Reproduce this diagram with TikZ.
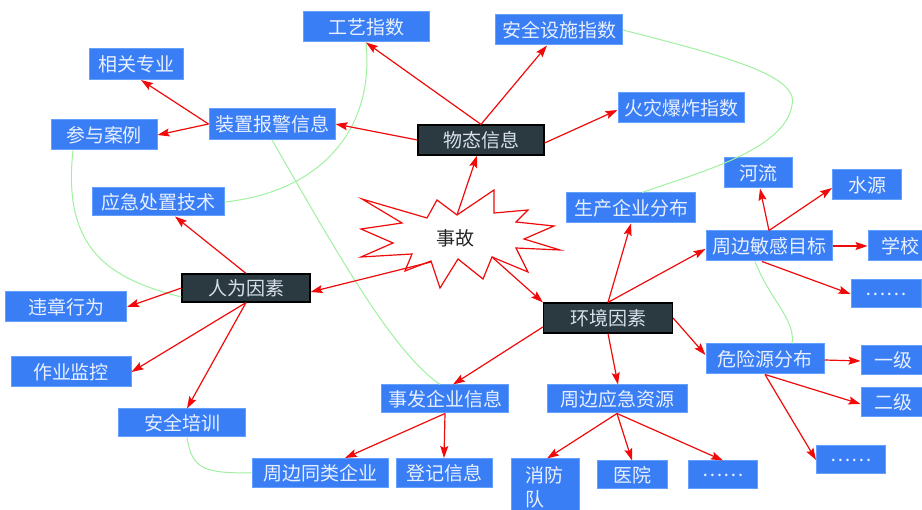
\documentclass[tikz,border=0pt]{standalone}
\usepackage{fontspec}
\setmainfont{Noto Sans CJK SC}
\usetikzlibrary{arrows.meta}
\definecolor{boxblue}{RGB}{58,126,246}
\definecolor{boxedge}{RGB}{100,160,255}
\definecolor{boxtext}{RGB}{232,240,255}
\definecolor{darkfill}{RGB}{42,58,64}
\definecolor{linkgreen}{RGB}{160,240,160}
\definecolor{arrred}{RGB}{240,10,10}
\tikzset{
  bluebox/.style={rectangle, fill=boxblue, draw=boxedge, line width=1pt, text=boxtext,
     inner sep=0pt, font=\fontsize{19}{22}\selectfont},
  darkbox/.style={rectangle, fill=darkfill, draw=black, line width=1.2pt, text=boxtext!85!gray,
     inner sep=0pt, font=\fontsize{19}{22}\selectfont},
  redarr/.style={draw=arrred, line width=1.2pt, -{Stealth[length=12pt,width=8pt,inset=2pt]}},
  greenlink/.style={draw=linkgreen, line width=1pt},
}
\begin{document}
\begin{tikzpicture}[x=1pt,y=-1pt]
\clip (0,0) rectangle (922,510);
\fill[white] (0,0) rectangle (922,510);
\useasboundingbox (0,0) rectangle (922,510);

% star
\draw[draw=arrred, line width=1.2pt, fill=white]
 (362,199) -- (427,218) -- (437,200) -- (457,215) -- (494,190) -- (494,213) -- (528,210)
 -- (516,222) -- (554,226) -- (524,239) -- (560,250) -- (516,248) -- (528,272) -- (492,257)
 -- (483,279) -- (458,259) -- (440,288) -- (431,261) -- (405,271) -- (412,254) -- (361,257)
 -- (393,243) -- (361,229) -- (402,223) -- cycle;
\node[font=\fontsize{19}{22}\selectfont, text=black!85] (sg) at (455,238) {事故};
\coordinate (s1) at (457,215);
\coordinate (s2) at (431,262);
\coordinate (s3) at (492,257);

% nodes
\node[bluebox, minimum width=126pt, minimum height=30pt] (gy) at (366,27) {工艺指数};
\node[bluebox, minimum width=127pt, minimum height=30pt] (aq) at (559,30) {安全设施指数};
\node[bluebox, minimum width=94pt, minimum height=31pt] (xg) at (136,64) {相关专业};
\node[bluebox, minimum width=126pt, minimum height=31pt] (zz) at (272,124) {装置报警信息};
\node[bluebox, minimum width=106pt, minimum height=30pt] (cy) at (104,135) {参与案例};
\node[darkbox, minimum width=126pt, minimum height=30pt] (wt) at (481,140) {物态信息};
\node[bluebox, minimum width=126pt, minimum height=30pt] (hz) at (681,108) {火灾爆炸指数};
\node[bluebox, minimum width=132pt, minimum height=28pt] (yj) at (158,202) {应急处置技术};
\node[bluebox, minimum width=129pt, minimum height=30pt] (sc) at (631,208) {生产企业分布};
\node[bluebox, minimum width=68pt, minimum height=30pt] (hl) at (758,173) {河流};
\node[bluebox, minimum width=69pt, minimum height=30pt] (sy) at (867,185) {水源};
\node[bluebox, minimum width=126pt, minimum height=30pt] (zb) at (769,246) {周边敏感目标};
\node[bluebox, minimum width=64pt, minimum height=30pt] (xx) at (900,246) {学校};
\node[bluebox, minimum width=70pt, minimum height=28pt] (d1) at (886,294) {……};
\node[darkbox, minimum width=128pt, minimum height=28pt] (rw) at (246,288) {人为因素};
\node[bluebox, minimum width=121pt, minimum height=30pt] (wz) at (66,307) {违章行为};
\node[bluebox, minimum width=120pt, minimum height=30pt] (zy) at (71,372) {作业监控};
\node[bluebox, minimum width=127pt, minimum height=28pt] (px) at (182,423) {安全培训};
\node[darkbox, minimum width=129pt, minimum height=30pt] (hj) at (608,318) {环境因素};
\node[bluebox, minimum width=118pt, minimum height=30pt] (wx) at (765,359) {危险源分布};
\node[bluebox, minimum width=64pt, minimum height=29pt] (y1) at (893,360) {一级};
\node[bluebox, minimum width=64pt, minimum height=29pt] (e2) at (893,402) {二级};
\node[bluebox, minimum width=69pt, minimum height=28pt] (d2) at (851,460) {……};
\node[bluebox, minimum width=127pt, minimum height=28pt] (sf) at (445,399) {事发企业信息};
\node[bluebox, minimum width=140pt, minimum height=28pt] (zr) at (617,399) {周边应急资源};
\node[bluebox, minimum width=136pt, minimum height=29pt] (tl) at (320,473) {周边同类企业};
\node[bluebox, minimum width=96pt, minimum height=29pt] (dj) at (444,473) {登记信息};
\node[bluebox, minimum width=68pt, minimum height=56pt, align=left, text width=40pt,
      font=\fontsize{19}{24}\selectfont] (xf) at (545,487) {消防\\队};
\node[bluebox, minimum width=70pt, minimum height=28pt] (yy) at (632,475) {医院};
\node[bluebox, minimum width=69pt, minimum height=28pt] (d3) at (723,475) {……};

% green links
\draw[greenlink] (gy.south) .. controls (375,130) and (320,192) .. (yj.east);
\draw[greenlink] (zz.south) .. controls (330,240) and (390,350) .. ([xshift=-5pt]sf.north);
\draw[greenlink] ([xshift=-31pt]cy.south) .. controls (62,250) and (110,279) .. ([yshift=-9pt]rw.west);
\draw[greenlink] (aq.east) .. controls (720,55) and (800,75) .. (792,105)
                 .. controls (785,150) and (700,172) .. ([xshift=11pt]sc.north);
\draw[greenlink] ([xshift=-14pt]zb.south) .. controls (770,300) and (796,320) .. ([xshift=27pt]wx.north);
\draw[greenlink] ([xshift=5pt]px.south) .. controls (192,470) and (205,473) .. (tl.west);

% red arrows
\draw[redarr] (s1) -- ([xshift=-4pt]wt.south);
\draw[redarr] (s2) -- ([yshift=-4pt]rw.east);
\draw[redarr] (s3) -- (hj.north west);
\draw[redarr] (wt.north) -- (gy.south);
\draw[redarr] (wt.north) -- ([xshift=-12pt]aq.south);
\draw[redarr] (wt.west) -- (zz.east);
\draw[redarr] ([yshift=-3pt]wt.east) -- ([yshift=-2pt]hz.west);
\draw[redarr] (zz.west) -- ([xshift=5pt]xg.south);
\draw[redarr] (zz.west) -- (cy.east);
\draw[redarr] (rw.north) -- ([xshift=17pt]yj.south);
\draw[redarr] (rw.west) -- (wz.east);
\draw[redarr] (rw.south) -- (zy.east);
\draw[redarr] (rw.south) -- ([xshift=5pt]px.north);
\draw[redarr] (hj.north) -- (sc.south);
\draw[redarr] (hj.north) -- ([yshift=-3pt]zb.west);
\draw[redarr] (hj.east) -- ([yshift=4pt]wx.west);
\draw[redarr] (hj.south) -- ([xshift=1pt]zr.north);
\draw[redarr] ([yshift=-9pt]hj.west) -- ([xshift=8pt]sf.north);
\draw[redarr] (zb.north) -- ([xshift=2pt]hl.south);
\draw[redarr] (zb.north) -- ([yshift=-3pt]sy.west);
\draw[redarr] (zb.east) -- (xx.west);
\draw[redarr] ([xshift=-7pt]zb.south) -- (d1.west);
\draw[redarr] ([yshift=-1pt]wx.east) -- ([yshift=-1pt]y1.west);
\draw[redarr] (wx.south) -- ([yshift=-2pt]e2.west);
\draw[redarr] (wx.south) -- (d2.west);
\draw[redarr] (sf.south) -- ([xshift=25pt]tl.north);
\draw[redarr] (sf.south) -- (dj.north);
\draw[redarr] (zr.south) -- ([xshift=2pt]xf.north);
\draw[redarr] (zr.south) -- (yy.north);
\draw[redarr] (zr.south) -- (d3.north);
\end{tikzpicture}
\end{document}
